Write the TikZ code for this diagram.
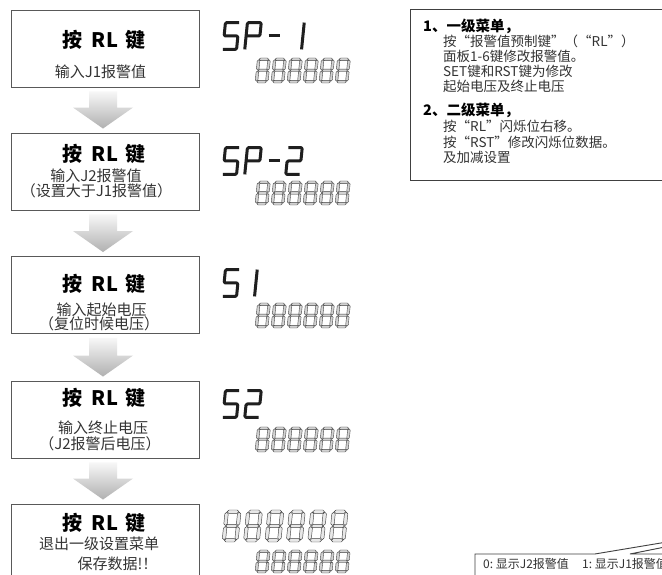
\documentclass[tikz,border=0pt]{standalone}
\usepackage{fontspec}
\setmainfont{Noto Sans CJK SC}
\usetikzlibrary{calc}
\tikzset{
 stepbox/.style={draw=black!65, line width=0.9pt, fill=white, minimum width=188pt, minimum height=77pt, inner sep=0pt},
 ttl/.style={font=\fontsize{20}{20}\selectfont\bfseries, inner sep=0pt},
 sub/.style={font=\fontsize{15}{15}\selectfont, text=black!80, inner sep=0pt},
 hd/.style={font=\fontsize{14.5}{14.5}\selectfont\bfseries, inner sep=0pt, anchor=west},
 bd/.style={font=\fontsize{13.5}{13.5}\selectfont, text=black!80, inner sep=0pt, anchor=west},
 cl/.style={font=\fontsize{12}{12}\selectfont, text=black!80, inner sep=0pt, anchor=west},
 arrowshade/.style={top color=gray!6, bottom color=gray!62, draw=none},
 lcd/.style={line width=3pt, draw=black!88, line join=round, rounded corners=1.2pt},
 segsty/.style={draw=black!75, fill=gray!35, line width=0.4pt},
 frameline/.style={draw=black!75, line width=0.9pt},
}
\newcommand\hseg[4]{\filldraw[segsty] ({#1},{#3}) -- ({#1+#4/2},{#3+#4/2}) -- ({#2-#4/2},{#3+#4/2}) -- ({#2},{#3}) -- ({#2-#4/2},{#3-#4/2}) -- ({#1+#4/2},{#3-#4/2}) -- cycle;}
\newcommand\vseg[4]{\filldraw[segsty] ({#3},{#1}) -- ({#3+#4/2},{#1+#4/2}) -- ({#3+#4/2},{#2-#4/2}) -- ({#3},{#2}) -- ({#3-#4/2},{#2-#4/2}) -- ({#3-#4/2},{#1+#4/2}) -- cycle;}
\newcommand\eightdig[4]{%
 \pgfmathsetmacro\dL{#3/2}\pgfmathsetmacro\dR{#1-#3/2}%
 \pgfmathsetmacro\dT{#2-#3/2}\pgfmathsetmacro\dM{#2/2}\pgfmathsetmacro\dB{#3/2}%
 \pgfmathsetmacro\hA{#3/2+#4}\pgfmathsetmacro\hB{#1-#3/2-#4}%
 \pgfmathsetmacro\vA{#3/2+#4}\pgfmathsetmacro\vB{#2/2-#4}\pgfmathsetmacro\vC{#2/2+#4}\pgfmathsetmacro\vD{#2-#3/2-#4}%
 \hseg{\hA}{\hB}{\dT}{#3}\hseg{\hA}{\hB}{\dM}{#3}\hseg{\hA}{\hB}{\dB}{#3}%
 \vseg{\vC}{\vD}{\dL}{#3}\vseg{\vA}{\vB}{\dL}{#3}\vseg{\vC}{\vD}{\dR}{#3}\vseg{\vA}{\vB}{\dR}{#3}}
\newcommand\digitrow[6]{%
 \foreach \k in {0,...,5}{\begin{scope}[shift={({#1+\k*#3},#2)},xslant=0.1]\eightdig{#4}{#5}{#6}{0.5}\end{scope}}}
\newcommand\lcdS[1]{\begin{scope}[shift={#1},xslant=0.1]\draw[lcd] (15.4,28.4) -- (1.6,28.4) -- (1.6,15) -- (15.4,15) -- (15.4,1.6) -- (1.6,1.6);\end{scope}}
\newcommand\lcdP[1]{\begin{scope}[shift={#1},xslant=0.1]\draw[lcd] (1.6,1.6) -- (1.6,28.4) -- (15.4,28.4) -- (15.4,15) -- (1.6,15);\end{scope}}
\newcommand\lcdDash[1]{\begin{scope}[shift={#1},xslant=0.1]\draw[lcd] (3,15) -- (14,15);\end{scope}}
\newcommand\lcdOne[1]{\begin{scope}[shift={#1},xslant=0.1]\draw[lcd] (15.4,1.6) -- (15.4,28.4);\end{scope}}
\newcommand\lcdTwo[1]{\begin{scope}[shift={#1},xslant=0.1]\draw[lcd] (1.6,28.4) -- (15.4,28.4) -- (15.4,15) -- (1.6,15) -- (1.6,1.6) -- (15.4,1.6);\end{scope}}
\newcommand\blockarrow[2]{\shade[arrowshade] let \p1=(#1.south), \p2=(#2.north) in
 ({\x1-16pt},{\y1-4pt}) -- ({\x1+12pt},{\y1-4pt}) -- ({\x1+12pt},{\y2+25pt}) -- ({\x1+28pt},{\y2+25pt}) -- ({\x1-2pt},{\y2+4pt}) -- ({\x1-32pt},{\y2+25pt}) -- ({\x1-16pt},{\y2+25pt}) -- cycle;}
\begin{document}
\begin{tikzpicture}[x=1pt,y=1pt]
\useasboundingbox (0,0) rectangle (662,575);
\clip (0,0) rectangle (662,575);
\fill[white] (0,0) rectangle (662,575);
% step boxes
\node[stepbox] (b1) at (105,526.5) {};
\node[stepbox] (b2) at (105,403.5) {};
\node[stepbox] (b3) at (105,280) {};
\node[stepbox] (b4) at (105,155.5) {};
\node[stepbox] (b5) at (105,32.5) {};
% arrows
\blockarrow{b1}{b2}
\blockarrow{b2}{b3}
\blockarrow{b3}{b4}
\blockarrow{b4}{b5}
% titles
\node[ttl] (t1) at (104,535) {按\hspace{9pt}RL\hspace{7pt}键};
\node[ttl] (t2) at (104,421) {按\hspace{9pt}RL\hspace{7pt}键};
\node[ttl] (t3) at (104,291.5) {按\hspace{9pt}RL\hspace{7pt}键};
\node[ttl] (t4) at (104,177.5) {按\hspace{9pt}RL\hspace{7pt}键};
\node[ttl] (t5) at (104,52.5) {按\hspace{9pt}RL\hspace{7pt}键};
% subtitles
\node[sub] (s1) at (100.5,503.5) {输入J1报警值};
\node[sub] (s2a) at (96,399) {输入J2报警值};
\node[sub] (s2b) at (96.5,384) {（设置大于J1报警值）};
\node[sub] (s3a) at (101.5,265) {输入起始电压};
\node[sub] (s3b) at (99,251) {（复位时候电压）};
\node[sub] (s4a) at (103,147) {输入终止电压};
\node[sub] (s4b) at (100,131) {（J2报警后电压）};
\node[sub] (s5a) at (99,31.5) {退出一级设置菜单};
\node[sub] (s5b) at (117.5,11) {保存数据!！};
% big LCD digits
\lcdS{(221,524)}\lcdP{(243,524)}\lcdDash{(264,524)}\lcdOne{(286,524)}
\lcdS{(221,399)}\lcdP{(243,399)}\lcdDash{(264,399)}\lcdTwo{(284,399)}
\lcdS{(221,277)}\lcdOne{(239,277)}
\lcdS{(221,156)}\lcdTwo{(243,156)}
% small digit rows
\digitrow{255}{492}{16}{13}{25}{2.6}
\digitrow{255}{370}{16}{13}{24}{2.6}
\digitrow{255}{247}{16}{13}{25}{2.6}
\digitrow{255}{123}{16}{13}{25}{2.6}
\digitrow{255}{2}{16}{13}{23}{2.6}
\begin{scope}[segsty/.style={draw=black!75, fill=gray!18, line width=0.45pt}]
\digitrow{222}{33}{21.4}{16}{32}{3.4}
\end{scope}
% right note box
\draw[frameline] (670,566) -- (410,566) -- (410,395) -- (670,395);
\node[hd] (h1) at (423,549) {1、一级菜单，};
\node[bd] (l1) at (443,534) {按“报警值预制键”（“RL”）};
\node[bd] (l2) at (443,519) {面板1-6键修改报警值。};
\node[bd] (l3) at (443,504) {SET键和RST键为修改};
\node[bd] (l4) at (443,489) {起始电压及终止电压};
\node[hd] (h2) at (423,465) {2、二级菜单，};
\node[bd] (l5) at (443,449) {按“RL”闪烁位右移。};
\node[bd] (l6) at (443,433) {按“RST”修改闪烁位数据。};
\node[bd] (l7) at (443,418) {及加减设置};
% bottom-right callout (cut off)
\coordinate (apex) at (805,56);
\draw[frameline] (475,-5) -- (475,21) -- (595,21) -- (apex);
\draw[frameline] (apex) -- (630,21) -- (670,21);
\node[cl] (c0) at (483,11) {0:\ 显示J2报警值};
\node[cl] (c1) at (582,11) {1:\ 显示J1报警值};
\end{tikzpicture}
\end{document}
